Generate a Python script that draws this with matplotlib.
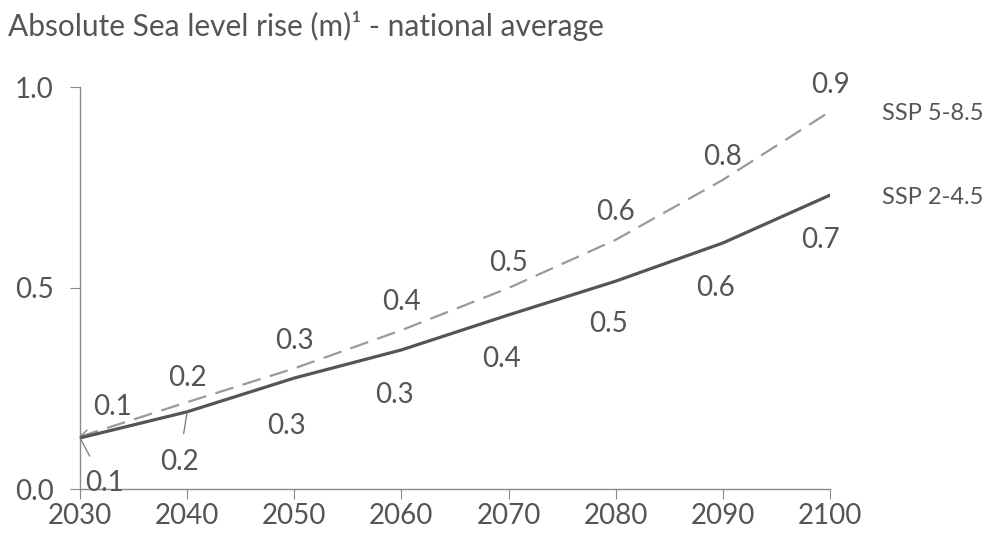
import numpy as np
import matplotlib.pyplot as plt

# Datos
years = [2030, 2040, 2050, 2060, 2070, 2080, 2090, 2100]
ssp245 = [0.127, 0.192, 0.276, 0.346, 0.433, 0.517, 0.612, 0.731]
ssp585 = [0.130, 0.216, 0.300, 0.395, 0.500, 0.620, 0.769, 0.939]
ssp245_labels = ["0.1", "0.2", "0.3", "0.3", "0.4", "0.5", "0.6", "0.7"]
ssp585_labels = ["0.1", "0.2", "0.3", "0.4", "0.5", "0.6", "0.8", "0.9"]
y_ticks = [0.0, 0.5, 1.0]

# desplazamientos de las etiquetas (pixeles)
off585 = [(32, 30), (0, 24), (0, 27), (0, 28), (0, 25), (0, 28), (0, 23), (0, 27)]
off245 = [(24, -45), (-8, -50), (-8, -48), (-7, -45), (-7, -44), (-7, -43), (-7, -45), (-10, -45)]

txt = "#555555"
plt.rcParams['font.family'] = ['Lato', 'DejaVu Sans']

fig = plt.figure(figsize=(9.86, 5.39), dpi=100)
ax = fig.add_axes([80/986, 1-489/539, 750/986, 402/539])

ax.plot(years, ssp585, color="#9a9a9a", lw=1.6, dashes=(8.5, 4.3), zorder=2)
ax.plot(years, ssp245, color="#555555", lw=2.3, zorder=3)

for i in range(len(years)):
    lead = i == 0
    ax.annotate(ssp585_labels[i], (years[i], ssp585[i]), xytext=off585[i],
                textcoords="offset pixels", ha="center", va="center",
                fontsize=20, color=txt,
                arrowprops=dict(arrowstyle="-", color="#777777", lw=0.9, shrinkA=8, shrinkB=0) if lead else None)
    lead = i < 2
    ax.annotate(ssp245_labels[i], (years[i], ssp245[i]), xytext=off245[i],
                textcoords="offset pixels", ha="center", va="center",
                fontsize=20, color=txt,
                arrowprops=dict(arrowstyle="-", color="#777777", lw=0.9, shrinkA=9, shrinkB=0) if lead else None)

ax.set_xlim(2030, 2100)
ax.set_ylim(0, 1)
ax.set_xticks(years)
ax.set_yticks(y_ticks)
ax.set_yticklabels(["%.1f" % v for v in y_ticks])
for s in ["top", "right"]:
    ax.spines[s].set_visible(False)
for s in ["left", "bottom"]:
    ax.spines[s].set_color("#8a8a8a")
    ax.spines[s].set_linewidth(1.0)
ax.tick_params(axis="both", direction="out", length=7, color="#8a8a8a",
               labelsize=20, labelcolor=txt)
ax.tick_params(axis="x", pad=3)
ax.tick_params(axis="y", pad=12)

ax.text(1.069, ssp585[-1] - 0.005, "SSP 5-8.5", transform=ax.get_yaxis_transform(),
        fontsize=17, color=txt, va="center", ha="left")
ax.text(1.069, ssp245[-1] - 0.005, "SSP 2-4.5", transform=ax.get_yaxis_transform(),
        fontsize=17, color=txt, va="center", ha="left")

fig.text(8/986, 1-36/539, "Absolute Sea level rise (m)\u00b9 - national average",
         fontsize=21.5, color=txt, va="baseline", ha="left")

fig.savefig("out.png", dpi=100)
